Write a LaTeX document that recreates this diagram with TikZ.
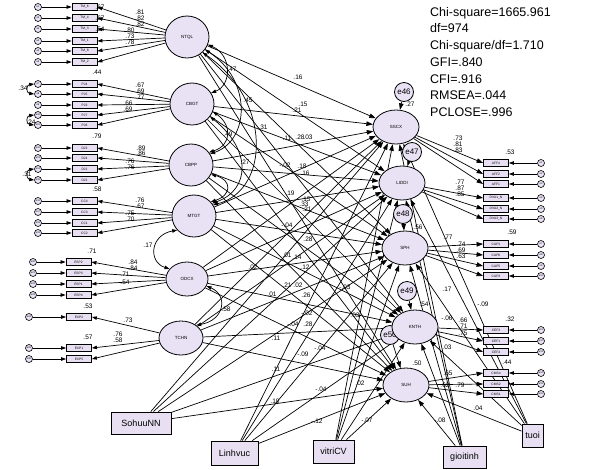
\documentclass[tikz,border=0pt]{standalone}
\usepackage{fontspec}
\setmainfont{Liberation Sans}
\usetikzlibrary{shapes.geometric,arrows.meta}
\definecolor{lav}{RGB}{233,226,245}
\definecolor{boxf}{RGB}{232,224,242}
\pgfdeclarelayer{bg}
\pgfsetlayers{bg,main}
\begin{document}
\begin{tikzpicture}[x=1pt,y=-1pt,
  lat/.style={ellipse, draw=black, line width=0.8pt, fill=lav, inner sep=0pt, minimum width=44pt, minimum height=42pt, font=\fontsize{4.5}{5}\selectfont},
  endo/.style={lat, minimum width=46pt, minimum height=34pt},
  ind/.style={rectangle, draw=black, line width=0.8pt, fill=boxf, minimum width=25pt, minimum height=7pt, inner sep=0pt, font=\fontsize{3.3}{4}\selectfont},
  errl/.style={circle, draw=black, line width=0.6pt, fill=lav, minimum size=7pt, inner sep=0pt, font=\fontsize{2.5}{3}\selectfont},
  erre/.style={circle, draw=black, line width=0.8pt, fill=lav, minimum size=19pt, inner sep=0pt, font=\fontsize{8}{8}\selectfont},
  cv/.style={rectangle, draw=black, line width=0.8pt, fill=boxf, inner sep=0pt, font=\fontsize{9}{10}\selectfont},
  arr/.style={-{Triangle[length=6.5pt,width=4.5pt]}, line width=0.7pt},
  arrs/.style={-{Triangle[length=5pt,width=3.5pt]}, line width=0.7pt},
  cov/.style={{Triangle[length=5pt,width=3.5pt]}-{Triangle[length=5pt,width=3.5pt]}, line width=0.7pt},
  co/.style={font=\fontsize{6.5}{7}\selectfont, inner sep=0pt},
]
\useasboundingbox (0,0) rectangle (591,469);

% ---------- exogenous latents ----------
\node[lat] (NTQL) at (187,37) {NTQL};
\node[lat] (CBGT) at (192,104) {CBGT};
\node[lat] (CBPP) at (191,165) {CBPP};
\node[lat] (MTGT) at (194,216) {MTGT};
\node[lat, minimum height=34pt, minimum width=42pt] (ODCX) at (187,279) {ODCX};
\node[lat, minimum height=34pt] (TCHN) at (181,338) {TCHN};

% ---------- endogenous ----------
\node[erre] (e47) at (412,152) {e47};
\node[erre] (e50) at (390,335) {e50};
\node[endo] (SSCX) at (396,127) {SSCX};
\node[endo] (LIDDI) at (402,183) {LIDDI};
\node[endo] (SPH) at (405,248) {SPH};
\node[endo] (KNTH) at (415,327) {KNTH};
\node[endo] (SUH) at (406,385) {SUH};
\node[erre] (e46) at (404,92) {e46};
\node[erre] (e48) at (403,214) {e48};
\node[erre] (e49) at (407,291) {e49};

% ---------- covariates ----------
\node[cv, minimum width=60pt, minimum height=22pt] (SohuuNN) at (141,423) {SohuuNN};
\node[cv, minimum width=47pt, minimum height=24pt] (Linhvuc) at (234.5,453) {Linhvuc};
\node[cv, minimum width=41pt, minimum height=23pt] (vitriCV) at (333.5,451.5) {vitriCV};
\node[cv, minimum width=43pt, minimum height=22pt] (gioitinh) at (464.5,457) {gioitinh};
\node[cv, minimum width=21pt, minimum height=23pt] (tuoi) at (532.5,435.5) {tuoi};

% ---------- left indicators ----------
\foreach \nm/\yy/\i/\lv/\bx/\ex in {
  TM\_6/7/1/NTQL/84.5/38, TM\_4/18/2/NTQL/84.5/38, TM\_3/29/3/NTQL/84.5/38, TM\_1/41/4/NTQL/84.5/38, TM\_8/51/5/NTQL/84.5/38, TM\_2/62/6/NTQL/84.5/38,
  PJ4/84/7/CBGT/84.5/38, PJ5/94/8/CBGT/84.5/38, PJ3/105/9/CBGT/84.5/38, PJ7/115/10/CBGT/84.5/38, PJ6/125/11/CBGT/84.5/38,
  DJ3/148/12/CBPP/84.5/38, DJ4/158/13/CBPP/84.5/38, DJ1/169/14/CBPP/84.5/38, DJ2/180/15/CBPP/84.5/38,
  CC4/201/16/MTGT/84.5/38, CC3/212/17/MTGT/84.5/38, CC1/223/18/MTGT/84.5/38, CC2/233/19/MTGT/84.5/38,
  ESP2/262/20/ODCX/78.5/33, ESP3/273/21/ODCX/78.5/33, ESP1/284/22/ODCX/78.5/33, ESP4/295/23/ODCX/78.5/33,
  EXP2/317/24/TCHN/79/29, EXP1/348/25/TCHN/79/29, EXP5/359/26/TCHN/79/29} {
  \node[ind] (L\i) at (\bx,\yy) {\nm};
  \node[errl] (eL\i) at (\ex,\yy) {e\i};
  \begin{pgfonlayer}{bg}
    \draw[arrs] (eL\i) -- (L\i);
    \draw[arrs] (\lv) -- (L\i.east);
  \end{pgfonlayer}
}

% ---------- right indicators ----------
\foreach \nm/\yy/\i/\lv in {
  AFF4/163/1/SSCX, AFF2/174/2/SSCX, AFF1/184/3/SSCX,
  DVA1\_N/198/4/LIDDI, DVA2\_N/209/5/LIDDI, DVA3\_N/219/6/LIDDI,
  CAP1/244/7/SPH, CAP6/255/8/SPH, CAP5/266/9/SPH, CAP3/276/10/SPH,
  CEF3/330/11/KNTH, CEF1/341/12/KNTH, CEF4/352/13/KNTH,
  CMS4/373/14/SUH, CMS2/384/15/SUH, CMS1/394/16/SUH} {
  \node[ind] (R\i) at (496,\yy) {\nm};
  \node[errl] (eR\i) at (541,\yy) {e\i};
  \begin{pgfonlayer}{bg}
    \draw[arrs] (eR\i) -- (R\i);
    \draw[arr] (\lv) -- (R\i.west);
  \end{pgfonlayer}
}

% ---------- structural paths ----------
\begin{pgfonlayer}{bg}
\foreach \x in {NTQL,CBGT,CBPP,MTGT,ODCX,TCHN,SohuuNN,Linhvuc,vitriCV,gioitinh,tuoi}
  \foreach \y in {SSCX,LIDDI,SPH,KNTH,SUH}
    \draw[arr] (\x) -- (\y);
\draw[arr] (e46) -- (SSCX);
\draw[arr] (e47) -- (LIDDI);
\draw[arr] (e48) -- (SPH);
\draw[arr] (e49) -- (KNTH);
\draw[arr] (e50) -- (SUH);
% covariances between exogenous latents
\draw[cov] (NTQL.-20) .. controls (232,55) and (232,85) .. (CBGT.30);
\draw[cov] (NTQL.-35) .. controls (252,80) and (250,140) .. (CBPP.30);
\draw[cov] (NTQL.-45) .. controls (272,100) and (270,190) .. (MTGT.30);
\draw[cov] (CBGT.-20) .. controls (232,125) and (232,145) .. (CBPP.35);
\draw[cov] (CBGT.-35) .. controls (252,150) and (250,190) .. (MTGT.35);
\draw[cov] (CBPP.-25) .. controls (232,180) and (232,195) .. (MTGT.40);
\draw[cov] (MTGT.-140) .. controls (150,235) and (148,262) .. (ODCX.150);
\draw[cov] (ODCX.-20) .. controls (228,295) and (225,320) .. (TCHN.40);
% error covariances (left)
\draw[cov] (eL7.west) .. controls (26,85) and (26,93) .. (eL8.west);
\draw[cov] (eL10.west) .. controls (26,116) and (26,124) .. (eL11.west);
\draw[cov] (eL14.west) .. controls (26,170) and (26,179) .. (eL15.west);
\end{pgfonlayer}

% ---------- fit statistics ----------
\node[anchor=north west, align=left, inner sep=0pt, font=\fontsize{12.5}{16.7}\selectfont] (fit) at (430,7)
  {Chi-square=1665.961\\df=974\\Chi-square/df=1.710\\GFI=.840\\CFI=.916\\RMSEA=.044\\PCLOSE=.996};

% ---------- left loadings ----------
\foreach \t/\xx/\yy in {.81/140/12, .82/140/18, .82/140/24, .80/130/30, .73/130/36, .78/130/42,
  .67/140/85, .69/140/91, .77/140/97, .66/128/103, .69/128/109,
  .89/141/148, .86/141/153, .76/130/161, .76/130/167,
  .76/140/200, .67/140/206, .75/130/213, .70/130/219,
  .84/133/262, .84/133/268, .71/125/274.5, .54/125/282,
  .73/128/320, .76/118/334, .58/118/340,
  .44/97/72, .79/97/136, .58/97/189, .71/92/251, .53/88/306, .57/88/337,
  .67/100/7, .67/100/18, .54/100/29,
  .34/23/88, .24/31/122, .31/27/174}
  \node[co] at (\xx,\yy) {\t};

% ---------- structural coefficients ----------
\foreach \t/\xx/\yy in {.16/298/77, .15/303/104, .21/297/110, .45/248/100, .31/263/127, .47/232/69, .49/228/134,
  .11/287/138, .28/300/137, .03/308/137, .27/245/162, -.02/285/165, .18/302/166, .16/305/173,
  .19/290/193, .15/306/199, .33/304/204, .21/307/209, -.04/287/225, .28/308/239,
  .01/287/255, .14/297/257, .12/305/267, .02/253/267, .21/287/285, .02/298/285, -.03/345/287,
  .01/272/294, .26/306/295, .58/226/309, -.02/307/313, .03/355/315, -.04/293/324, .28/308/324,
  .11/276/338, -.04/320/348, -.09/303/354, .11/276/369, -.04/321/389, .10/275/401, .02/360/383,
  -.12/317/421, -.07/367/420, .17/148/245,
  .27/410/104, .56/418/227, .54/424/304, .50/417/363,
  .73/458/138, .81/458/144, .83/458/150, .77/460/182, .87/460/188, .85/460/194,
  .77/448/237, .74/461/244, .69/461/250, .63/461/256, .17/447/289, -.09/483/304,
  -.06/447/318, .66/463/320, .71/463/326, .75/463/333, .03/447/347,
  .65/448/373, .62/445/385, .79/460/385, .04/478/408, -.08/440/420,
  .53/510/152, .59/512/232, .32/510/319, .44/507/362}
  \node[co] at (\xx,\yy) {\t};
\end{tikzpicture}
\end{document}
